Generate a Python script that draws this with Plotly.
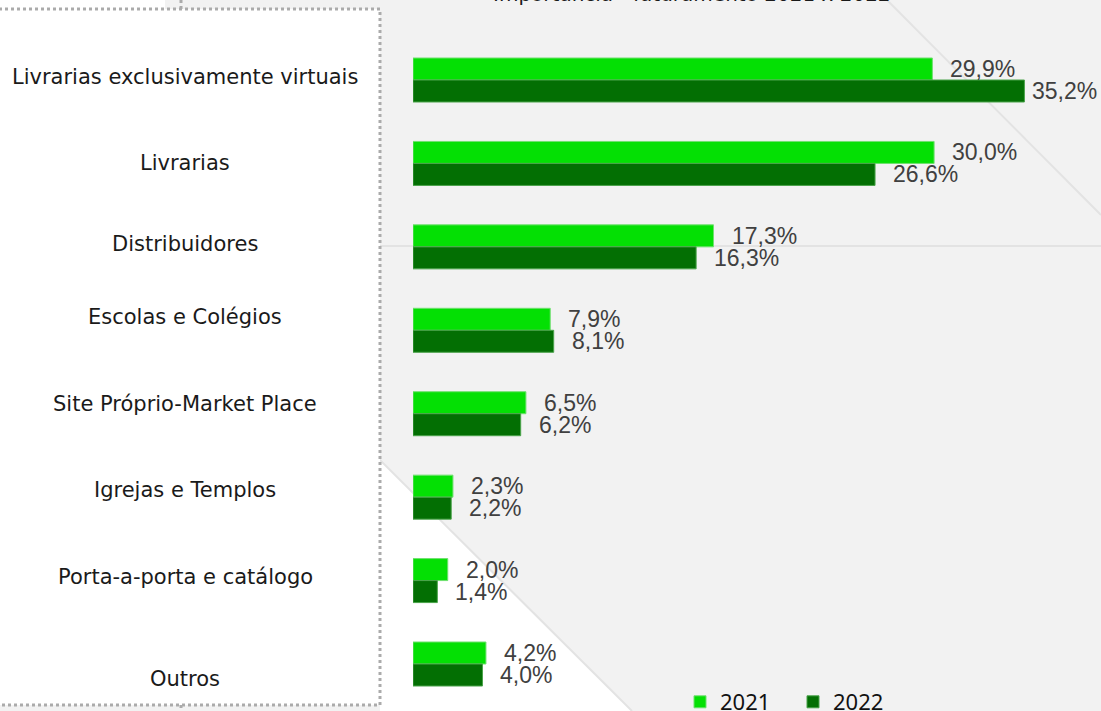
import plotly.graph_objects as go

categories = [
    "Livrarias exclusivamente virtuais",
    "Livrarias",
    "Distribuidores",
    "Escolas e Colégios",
    "Site Próprio-Market Place",
    "Igrejas e Templos",
    "Porta-a-porta e catálogo",
    "Outros",
]
values_2021 = [29.9, 30.0, 17.3, 7.9, 6.5, 2.3, 2.0, 4.2]
values_2022 = [35.2, 26.6, 16.3, 8.1, 6.2, 2.2, 1.4, 4.0]
series_names = ["2021", "2022"]
title_text = "Importância - faturamento 2021 x 2022"

W, H = 1101, 711
C21 = "#04e004"
C22 = "#036f03"

# layout geometry (pixels)
x0_px = 413
px_per_unit = 17.37
group_top_px = 80
group_step_px = 83.43
bar_px = 22

x_max = (W - x0_px) / px_per_unit
y_top = -group_top_px / group_step_px
y_bot = (H - group_top_px) / group_step_px
bar_units = bar_px / group_step_px
bargap = 1 - 2 * bar_units

fmt = lambda v: f"{v:.1f}".replace(".", ",") + "%"

fig = go.Figure()
for name, vals, col, edge in [
    (series_names[0], values_2021, C21, "#6fe06f"),
    (series_names[1], values_2022, C22, "#4aa34a"),
]:
    fig.add_trace(go.Bar(
        name=name, y=categories, x=vals, orientation="h",
        marker=dict(color=col, line=dict(color=edge, width=1)),
        hoverinfo="skip",
    ))

annotations = []
# value labels
for i, (a, b) in enumerate(zip(values_2021, values_2022)):
    for v, dy in [(a, -bar_units / 2), (b, bar_units / 2)]:
        end_px = x0_px + v * px_per_unit
        shift = 16 if end_px + 16 + 70 <= W else 6
        annotations.append(dict(
            x=v, y=i + dy, xref="x", yref="y", text=fmt(v), showarrow=False,
            xanchor="left", yanchor="middle", xshift=shift,
            font=dict(family="Liberation Sans, Arial", size=23, color="#404040"),
        ))

# category labels in the left panel
label_shift = [3, 0, 3, 13, 10, 7, 4, -15]
for i, c in enumerate(categories):
    annotations.append(dict(
        x=185 / W, y=i, xref="paper", yref="y", text=c, showarrow=False,
        xanchor="center", yanchor="middle", yshift=label_shift[i],
        font=dict(family="DejaVu Sans", size=21, color="#1a1a1a"),
    ))

# cut-off title at the top
annotations.append(dict(
    x=692 / W, y=1, xref="paper", yref="paper", text=title_text, showarrow=False,
    xanchor="center", yanchor="bottom", yshift=-8,
    font=dict(family="DejaVu Sans", size=20, color="#1a1a1a"),
))

def px(x):
    return x / W

def py(y):
    return 1 - y / H

dot = dict(color="#ababab", width=3, dash="3px,3px")
shapes = [
    # white triangle bottom
    dict(type="path", xref="paper", yref="paper",
         path=f"M {px(380)},{py(460)} L {px(632)},{py(711)} L {px(380)},{py(711)} Z",
         fillcolor="white", line=dict(width=0), layer="below"),
    dict(type="line", xref="paper", yref="paper", x0=px(380), y0=py(460), x1=px(632), y1=py(711),
         line=dict(color="#e3e3e3", width=2), layer="below"),
    # faint diagonal and horizontal lines
    dict(type="line", xref="paper", yref="paper", x0=px(887), y0=py(0), x1=px(1101), y1=py(215),
         line=dict(color="#e3e3e3", width=2), layer="below"),
    dict(type="line", xref="paper", yref="paper", x0=px(380), y0=py(246), x1=px(1101), y1=py(246),
         line=dict(color="#e3e3e3", width=2), layer="below"),
    # white strip above panel
    dict(type="rect", xref="paper", yref="paper", x0=px(-5), y0=py(10), x1=px(165), y1=py(-5),
         fillcolor="white", line=dict(width=0), layer="below"),
    # left panel
    dict(type="rect", xref="paper", yref="paper", x0=px(-10), y0=py(705), x1=px(380), y1=py(9),
         fillcolor="white", line=dot, layer="below"),
    dict(type="line", xref="paper", yref="paper", x0=px(181), y0=py(0), x1=px(181), y1=py(9),
         line=dot, layer="below"),
    dict(type="line", xref="paper", yref="paper", x0=px(181), y0=py(705), x1=px(181), y1=py(711),
         line=dot, layer="below"),
]

fig.update_layout(
    width=W, height=H,
    margin=dict(l=0, r=0, t=0, b=0, autoexpand=False),
    paper_bgcolor="#f2f2f2",
    plot_bgcolor="rgba(0,0,0,0)",
    barmode="group", bargap=bargap, bargroupgap=0,
    xaxis=dict(domain=[x0_px / W, 1], range=[0, x_max], visible=False, fixedrange=True),
    yaxis=dict(range=[y_bot, y_top], visible=False, type="category",
               categoryorder="array", categoryarray=categories),
    showlegend=True,
    legend=dict(orientation="h", x=680 / W, xanchor="left", y=py(681), yanchor="top",
                bgcolor="rgba(0,0,0,0)", font=dict(family="Noto Sans", size=22, color="#111111"),
                itemwidth=30, entrywidth=68, traceorder="normal"),
    annotations=annotations,
    shapes=shapes,
)

fig.write_html(
    "out.html",
    config={"displayModeBar": False},
    post_script="document.body.style.margin='0';document.body.style.overflow='hidden';",
)
